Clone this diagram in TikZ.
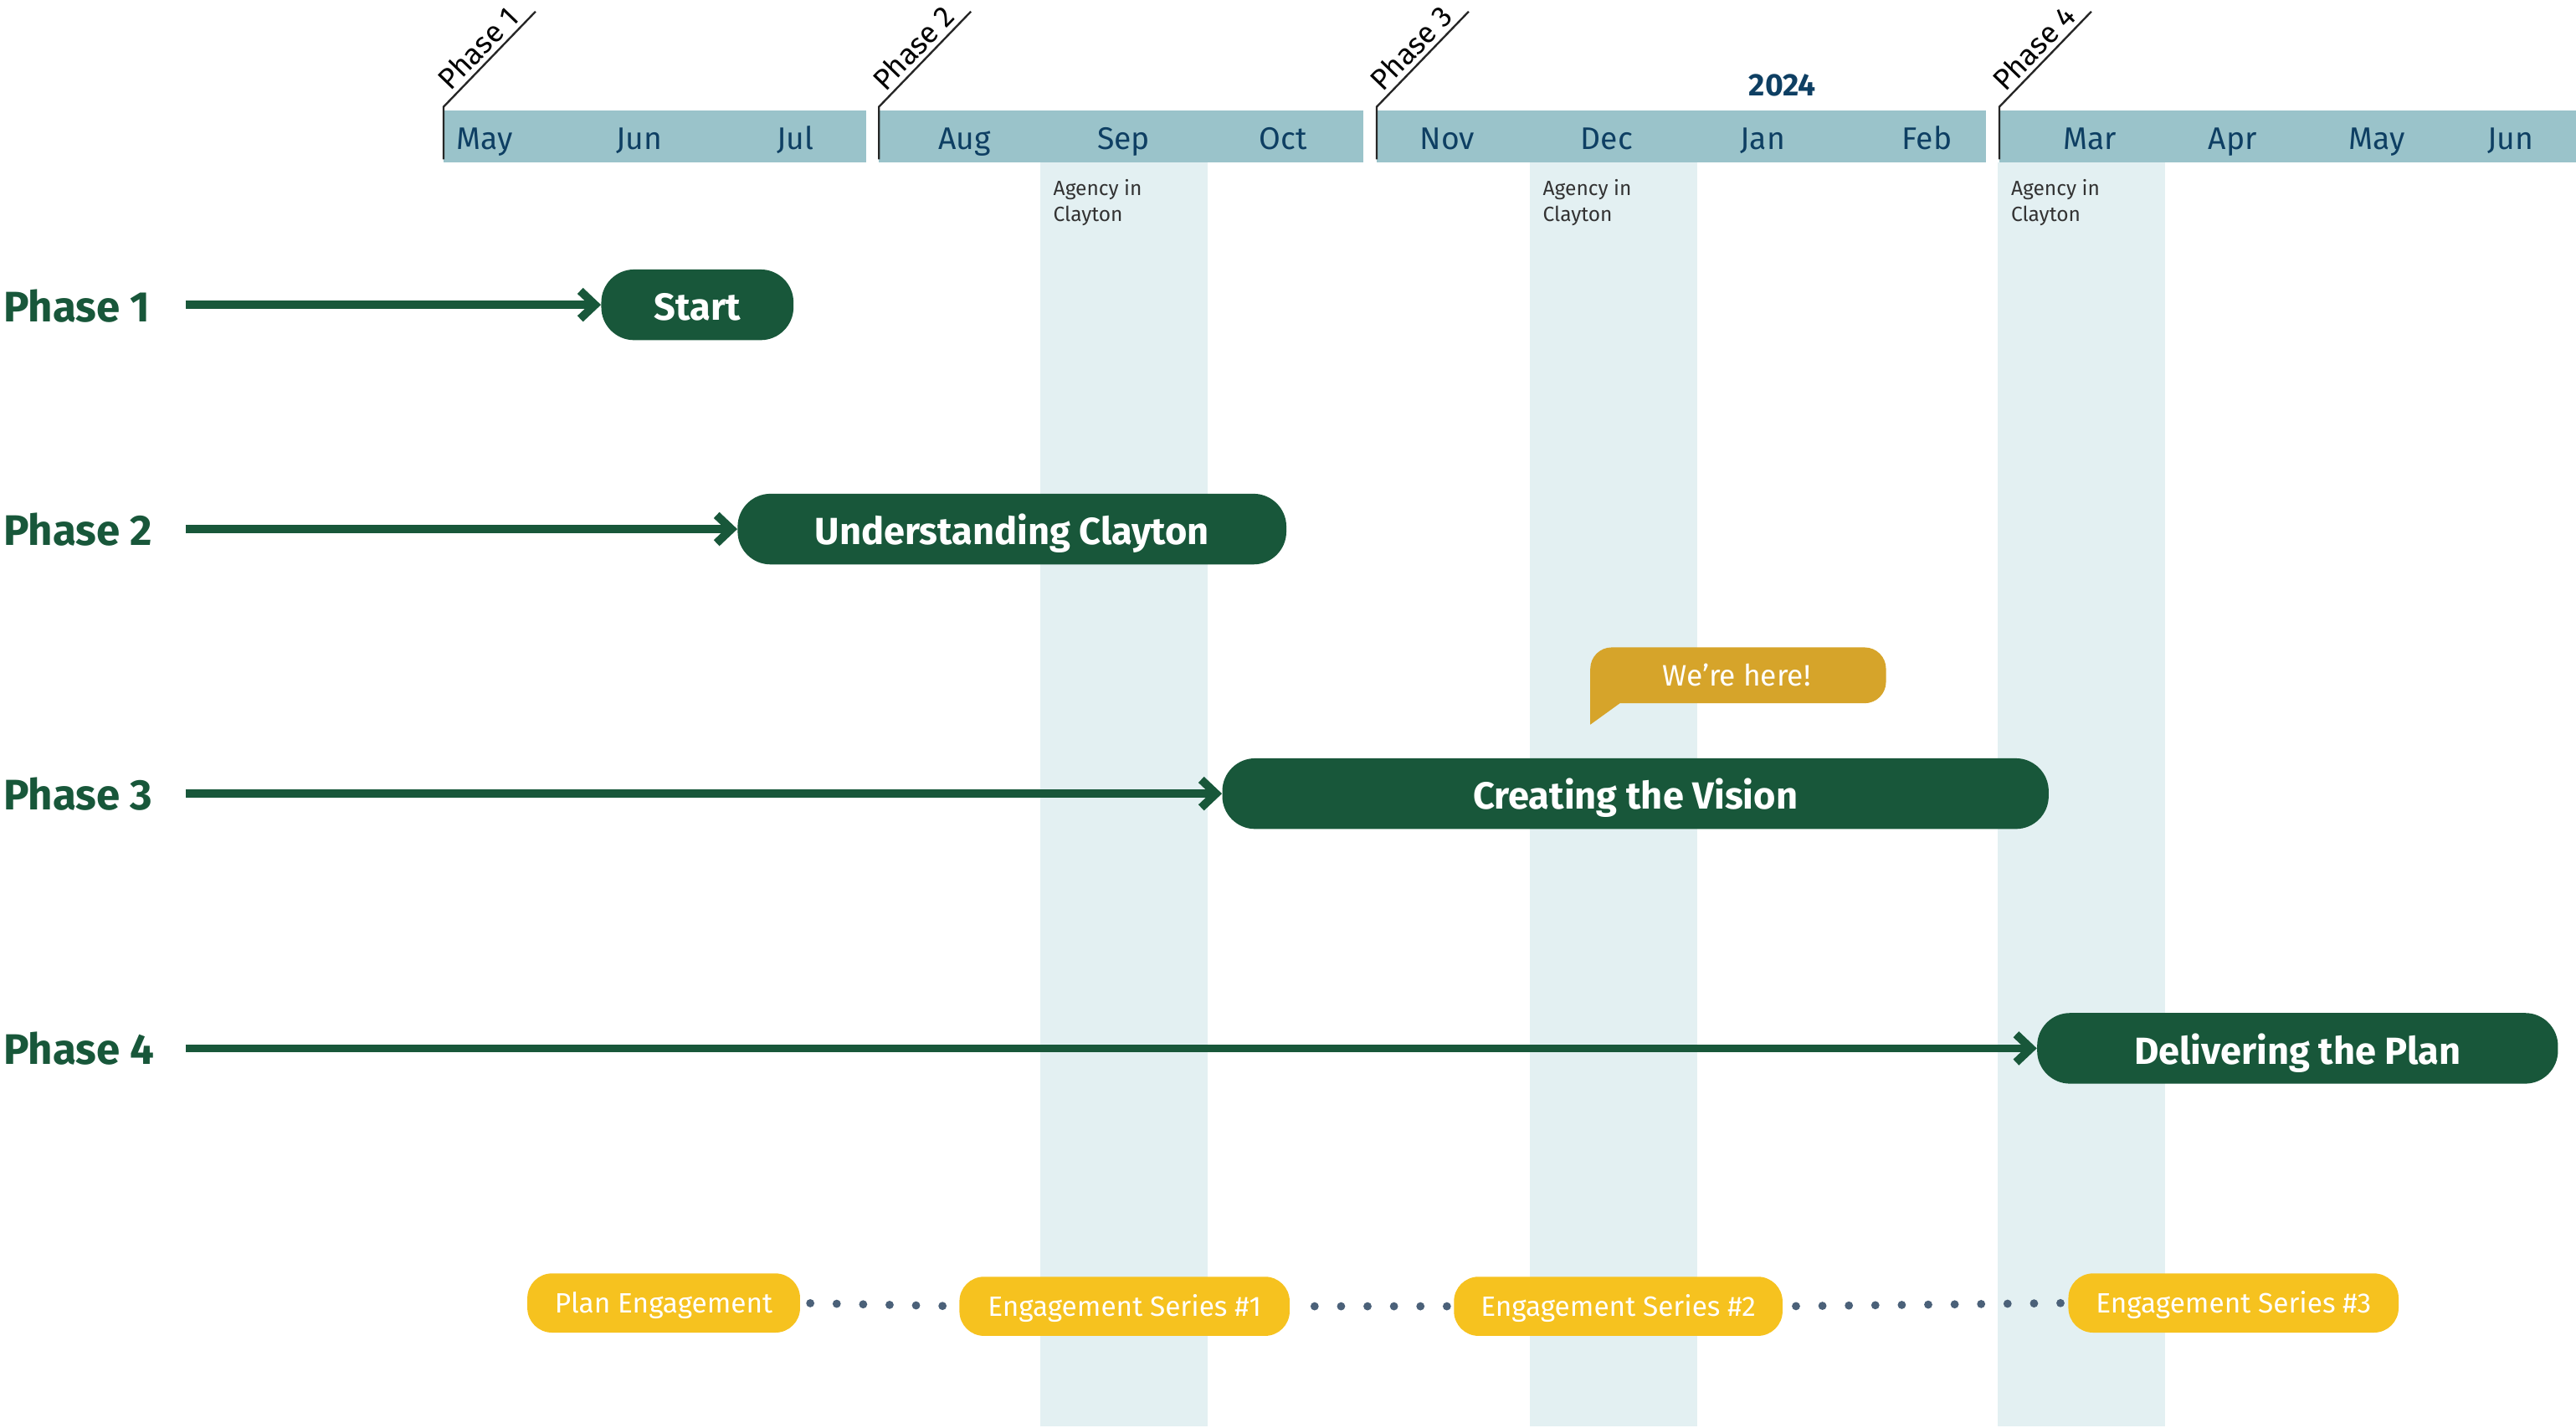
\documentclass[tikz,border=0pt]{standalone}
\usepackage{fontspec}
\setmainfont{Fira Sans}
\usepackage{tikz}
\usetikzlibrary{arrows.meta}
\usetikzlibrary{positioning}
\definecolor{dkgreen}{HTML}{18573A}
\definecolor{barblue}{HTML}{9AC3CA}
\definecolor{bandblue}{HTML}{E3F0F2}
\definecolor{monthblue}{HTML}{0E3F63}
\definecolor{pillyellow}{HTML}{F6C21F}
\definecolor{gold}{HTML}{D6A42A}
\definecolor{dotgray}{HTML}{4B6179}
\tikzset{
phaselbl/.style={anchor=west,text=dkgreen,font={\fontsize{26pt}{30pt}\selectfont\bfseries},inner sep=0pt},
stagebox/.style={fill=dkgreen,text=white,rounded corners=20pt,minimum height=43pt,inner sep=0pt,text height=19pt,text depth=0pt,font={\fontsize{23pt}{28pt}\selectfont\bfseries}},
phasearrow/.style={draw=dkgreen,line width=5pt,-{Straight Barb[length=9pt,width=17pt]}},
month/.style={anchor=base,text=monthblue,font={\fontsize{19pt}{22pt}\selectfont}},
tick/.style={draw=black!85,line width=1.2pt},
ticklbl/.style={pos=0.5,above,sloped,inner sep=2.5pt,font={\fontsize{18pt}{20pt}\selectfont}},
agency/.style={anchor=north west,align=left,text=black!80,inner sep=0pt,font={\fontsize{12.5pt}{16pt}\selectfont}},
engage/.style={fill=pillyellow,text=white,rounded corners=15pt,minimum height=36pt,inner sep=0pt,text height=12.5pt,text depth=0pt,font={\fontsize{17pt}{20pt}\selectfont}},
dots/.style={draw=dotgray,line width=5pt,line cap=round,dash pattern=on 0pt off 16.1pt}
}
\begin{document}
\begin{tikzpicture}[x=1pt,y=-1pt]
\useasboundingbox (0,0) rectangle (1568,869);

%agency bands
\foreach \x [count=\i] in {633,931,1216}{
\fill[bandblue] (\x,99) rectangle +(102,769);
\node[agency] (ag\i) at (\x+8,109) {Agency in\\Clayton};
}

%month bar
\fill[barblue] (270,67) rectangle (527,99);
\fill[barblue] (535,67) rectangle (830,99);
\fill[barblue] (838,67) rectangle (1209,99);
\fill[barblue] (1217,67) rectangle (1568,99);
\foreach \m/\x [count=\i] in {May/295,Jun/389,Jul/484,Aug/587,Sep/684,Oct/781,Nov/881,Dec/978,Jan/1073,Feb/1173,Mar/1272,Apr/1359,May/1447,Jun/1528}
\node[month] (m\i) at (\x,91) {\m};
\node[text=monthblue,font={\fontsize{19pt}{22pt}\selectfont\bfseries}] (yr) at (1085,52) {2024};

%phase ticks
\foreach \x [count=\i] in {270,535,838,1217}
\draw[tick] (\x,97) -- (\x,65) -- +(56,-58) node[ticklbl] (t\i) {Phase \i};

%phases
\node[phaselbl] (p1) at (2,186) {Phase 1};
\node[phaselbl] (p2) at (2,322) {Phase 2};
\node[phaselbl] (p3) at (2,483) {Phase 3};
\node[phaselbl] (p4) at (2,638) {Phase 4};

\node[stagebox,minimum width=117pt] (s1) at (424.5,185.5) {Start};
\node[stagebox,minimum width=334pt] (s2) at (616,322) {Understanding Clayton};
\node[stagebox,minimum width=503pt] (s3) at (995.5,483) {Creating the Vision};
\node[stagebox,minimum width=317pt] (s4) at (1398.5,638) {Delivering the Plan};

\foreach \i/\y in {1/185.5,2/322,3/483,4/638}{
\coordinate (a\i) at (113,\y);
\draw[phasearrow] (a\i) -- (s\i.west);
}

%callout
\fill[gold] (968,441) -- (968,412) [rounded corners=13pt] -- (968,394) -- (1148,394) -- (1148,428) [sharp corners] -- (1130,428) -- (986,428) -- cycle;
\node[text=white,font={\fontsize{18pt}{22pt}\selectfont}] (here) at (1057,411) {We’re here!};

%engagement
\node[engage,minimum width=166pt] (e0) at (404,793) {Plan Engagement};
\node[engage,minimum width=201pt] (e1) at (684.5,795) {Engagement Series \#1};
\node[engage,minimum width=200pt] (e2) at (985,795) {Engagement Series \#2};
\node[engage,minimum width=201pt] (e3) at (1359.5,793) {Engagement Series \#3};
\draw[dots,shorten <=6pt,shorten >=9.5pt] (e0.east) -- (e1.west);
\draw[dots,shorten <=15pt,shorten >=3.5pt] (e1.east) -- (e2.west);
\draw[dots,shorten <=8pt,shorten >=4.5pt] (e2.east) -- (e3.west);

\end{tikzpicture}
\end{document}
